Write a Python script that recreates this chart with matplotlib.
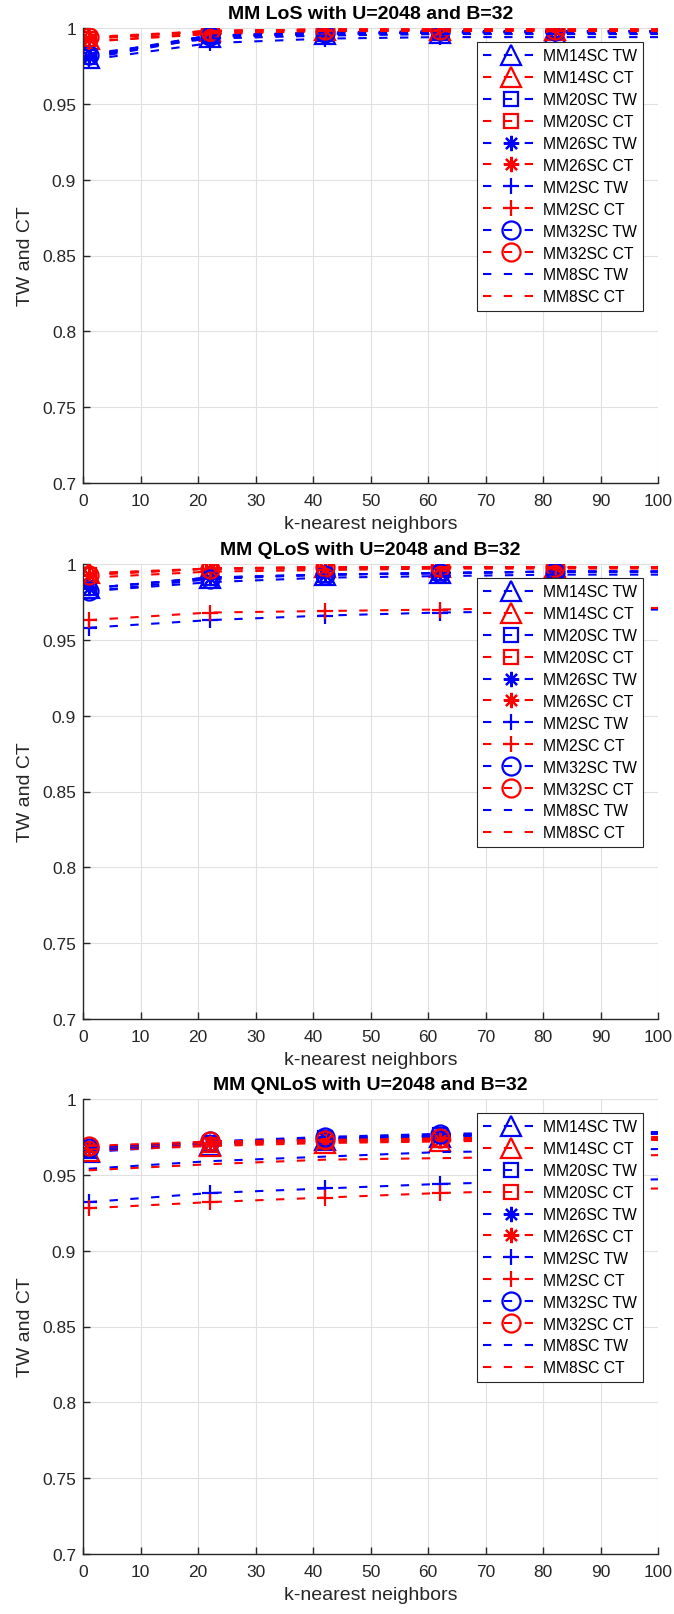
import matplotlib
matplotlib.use("Agg")
import matplotlib.pyplot as plt
import numpy as np

plt.rcParams['font.family'] = ['Liberation Sans', 'DejaVu Sans']

k = [1, 22, 42, 62, 82, 100]
schemes = ['MM14SC', 'MM20SC', 'MM26SC', 'MM2SC', 'MM32SC', 'MM8SC']
markers = ['^', 's', (8, 2, 0), '+', 'o', None]
marker_sizes = [15, 10, 11, 12, 13, 0]
titles = ['MM LoS with U=2048 and B=32',
          'MM QLoS with U=2048 and B=32',
          'MM QNLoS with U=2048 and B=32']

# --- LoS ---
los_tw = [
    [0.980, 0.994, 0.996, 0.997, 0.997, 0.997],
    [0.981, 0.995, 0.996, 0.997, 0.998, 0.998],
    [0.981, 0.995, 0.997, 0.997, 0.998, 0.998],
    [0.979, 0.990, 0.993, 0.994, 0.994, 0.994],
    [0.982, 0.995, 0.997, 0.998, 0.998, 0.998],
    [0.983, 0.993, 0.995, 0.996, 0.996, 0.996],
]
los_ct = [
    [0.993, 0.998, 0.999, 0.999, 0.999, 0.999],
    [0.993, 0.998, 0.999, 0.999, 0.999, 0.999],
    [0.993, 0.998, 0.999, 0.999, 0.999, 0.999],
    [0.991, 0.996, 0.998, 0.998, 0.998, 0.998],
    [0.994, 0.998, 0.999, 0.999, 0.999, 0.999],
    [0.991, 0.997, 0.998, 0.998, 0.998, 0.998],
]

# --- QLoS ---
qlos_tw = [
    [0.984, 0.991, 0.993, 0.994, 0.995, 0.995],
    [0.984, 0.991, 0.993, 0.994, 0.995, 0.995],
    [0.984, 0.991, 0.993, 0.994, 0.995, 0.995],
    [0.958, 0.963, 0.966, 0.968, 0.969, 0.970],
    [0.982, 0.990, 0.993, 0.994, 0.995, 0.995],
    [0.982, 0.988, 0.991, 0.992, 0.993, 0.993],
]
qlos_ct = [
    [0.994, 0.997, 0.998, 0.998, 0.998, 0.998],
    [0.993, 0.997, 0.997, 0.998, 0.998, 0.998],
    [0.993, 0.997, 0.997, 0.998, 0.998, 0.998],
    [0.963, 0.968, 0.969, 0.970, 0.971, 0.971],
    [0.993, 0.997, 0.998, 0.998, 0.998, 0.998],
    [0.991, 0.995, 0.996, 0.997, 0.997, 0.997],
]

# --- QNLoS ---
qnlos_tw = [
    [0.965, 0.970, 0.973, 0.975, 0.976, 0.977],
    [0.966, 0.971, 0.974, 0.976, 0.977, 0.978],
    [0.967, 0.971, 0.974, 0.976, 0.977, 0.978],
    [0.932, 0.938, 0.941, 0.944, 0.946, 0.947],
    [0.968, 0.972, 0.975, 0.977, 0.978, 0.978],
    [0.954, 0.959, 0.962, 0.965, 0.966, 0.967],
]
qnlos_ct = [
    [0.966, 0.969, 0.971, 0.972, 0.973, 0.973],
    [0.967, 0.970, 0.972, 0.973, 0.974, 0.974],
    [0.968, 0.971, 0.972, 0.973, 0.974, 0.974],
    [0.928, 0.932, 0.935, 0.938, 0.940, 0.941],
    [0.969, 0.972, 0.973, 0.974, 0.975, 0.975],
    [0.953, 0.957, 0.960, 0.961, 0.962, 0.963],
]

panels = [(los_tw, los_ct), (qlos_tw, qlos_ct), (qnlos_tw, qnlos_ct)]

W, H = 674, 1615
fig = plt.figure(figsize=(W / 100, H / 100), dpi=100)
ax_left, ax_right = 83, 658
tops = [29, 565, 1100]
ax_h = 455
axis_col = (0.15, 0.15, 0.15)

for p, (tw, ct) in enumerate(panels):
    top = tops[p]
    ax = fig.add_axes([ax_left / W, 1 - (top + ax_h) / H,
                       (ax_right - ax_left) / W, ax_h / H])
    for i, name in enumerate(schemes):
        for vals, col, tag in ((tw[i], 'blue', 'TW'), (ct[i], 'red', 'CT')):
            ax.plot(k, vals, color=col, lw=1.5, dashes=(4, 6),
                    marker=markers[i], markevery=[0, 1, 2, 3, 4],
                    ms=marker_sizes[i], mfc='none', mew=1.6, mec=col,
                    label=f'{name} {tag}')
    ax.set_xlim(0, 100)
    ax.set_ylim(0.7, 1.0)
    ax.set_xticks(np.arange(0, 101, 10))
    yt = np.arange(0.7, 1.0001, 0.05)
    ax.set_yticks(yt)
    ax.set_yticklabels([f'{v:g}' for v in np.round(yt, 2)])
    ax.grid(True, color=(0.88, 0.88, 0.88), lw=0.8)
    ax.set_axisbelow(True)
    for s in ('top', 'right'):
        ax.spines[s].set_visible(False)
    for s in ('left', 'bottom'):
        ax.spines[s].set_color(axis_col)
        ax.spines[s].set_linewidth(1.0)
    ax.tick_params(direction='in', length=5, width=1, colors=axis_col,
                   labelsize=12.5)
    ax.tick_params(axis='x', pad=7)
    ax.tick_params(axis='y', pad=5)
    ax.set_xlabel('k-nearest neighbors', fontsize=14, color=axis_col, labelpad=5)
    ax.set_ylabel('TW and CT', fontsize=14, color=axis_col, labelpad=6)
    ax.set_title(titles[p], fontsize=14, fontweight='bold', pad=7)
    leg = ax.legend(loc='upper right', bbox_to_anchor=(0.974, 0.969),
                    fontsize=11.3, numpoints=1, handlelength=3.5,
                    labelspacing=0.44, borderpad=0.4, handletextpad=0.3,
                    fancybox=False, framealpha=1, borderaxespad=0)
    leg.get_frame().set_edgecolor(axis_col)
    leg.get_frame().set_linewidth(0.8)

fig.savefig('out.png', dpi=100)
